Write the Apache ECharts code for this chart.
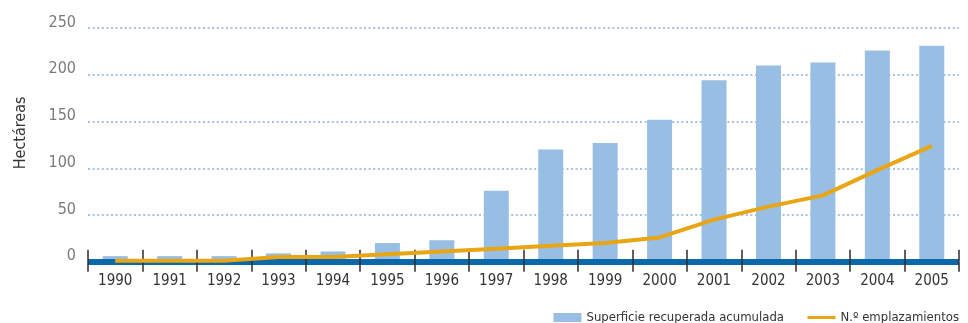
<!DOCTYPE html>
<html>
<head>
<meta charset="utf-8">
<script src="https://cdn.jsdelivr.net/npm/echarts@6/dist/echarts.min.js"></script>
<style>
  html, body { margin: 0; padding: 0; background: #fff; }
  #chart { width: 968px; height: 323px; }
</style>
</head>
<body>
<div id="chart"></div>
<script>
// Years on the category axis
const years = ['1990','1991','1992','1993','1994','1995','1996','1997',
               '1998','1999','2000','2001','2002','2003','2004','2005'];
// Accumulated recovered surface (hectares)
const superficie = [6, 6, 6, 9, 11, 20, 23, 76, 120, 127, 152, 194, 210, 213, 226, 231];
// Number of sites
const emplazamientos = [1, 1, 1, 5, 5, 8, 11, 14, 17, 20, 26, 45, 59, 71, 98, 124];
// Value-axis ticks
const yTicks = [0, 50, 100, 150, 200, 250];

const FONT = "'Liberation Sans Narrow', 'DejaVu Sans Condensed', sans-serif";

const chart = echarts.init(document.getElementById('chart'), null, { renderer: 'canvas' });

chart.setOption({
  animation: false,
  backgroundColor: '#ffffff',
  grid: { left: 88, right: 9, top: 28, bottom: 61.25, containLabel: false },
  legend: {
    right: 4,
    top: 306,
    itemGap: 22,
    itemWidth: 28,
    itemHeight: 9,
    textStyle: { fontFamily: FONT, fontSize: 13, color: '#333' },
    data: [
      { name: 'Superficie recuperada acumulada', icon: 'rect' },
      {
        name: 'N.º emplazamientos',
        itemStyle: { color: 'rgba(0,0,0,0)', borderWidth: 0, opacity: 0 },
        lineStyle: { width: 3 }
      }
    ]
  },
  xAxis: [
    {
      type: 'category',
      data: years,
      boundaryGap: true,
      axisLine: { show: true, lineStyle: { color: '#0b69a9', width: 6, cap: 'butt' } },
      axisTick: { show: true, alignWithLabel: false, length: 10, lineStyle: { color: '#2b2b2b', width: 1.5 } },
      axisLabel: { fontFamily: FONT, fontSize: 15, color: '#333', margin: 12 },
      z: 5
    },
    {
      type: 'category',
      data: years,
      position: 'bottom',
      boundaryGap: true,
      axisLine: { show: false },
      axisTick: { show: true, inside: true, alignWithLabel: false, length: 12, lineStyle: { color: '#2b2b2b', width: 1.5 } },
      axisLabel: { show: false },
      z: 6
    }
  ],
  yAxis: {
    type: 'value',
    min: yTicks[0],
    max: yTicks[yTicks.length - 1],
    interval: 50,
    name: 'Hectáreas',
    nameLocation: 'middle',
    nameRotate: 90,
    nameGap: 59,
    nameTextStyle: { fontFamily: FONT, fontSize: 16, color: '#333', padding: [0, 0, 0, 24] },
    axisLine: { show: false },
    axisTick: { show: false },
    axisLabel: {
      fontFamily: FONT, fontSize: 16, color: '#7a7a7a', margin: 12,
      verticalAlign: 'bottom', lineHeight: 11
    },
    splitLine: { show: true, lineStyle: { color: '#a6c3e6', width: 2, type: [2, 2.6] } }
  },
  series: [
    {
      name: 'Superficie recuperada acumulada',
      type: 'bar',
      data: superficie,
      barWidth: 25,
      itemStyle: { color: '#99bee4' },
      z: 2
    },
    {
      name: 'N.º emplazamientos',
      type: 'line',
      data: emplazamientos,
      symbol: 'none',
      lineStyle: { color: '#e8a514', width: 4 },
      itemStyle: { color: '#e8a514' },
      z: 8
    }
  ]
});
</script>
</body>
</html>
